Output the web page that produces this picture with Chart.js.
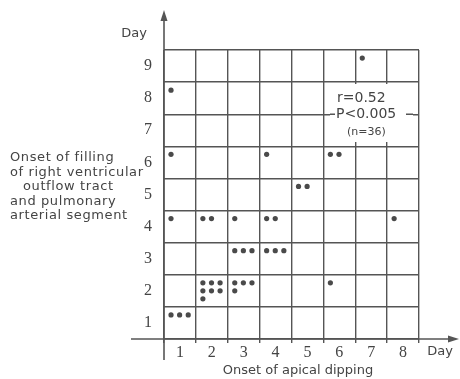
<!DOCTYPE html>
<html>
<head>
<meta charset="utf-8">
<script src="https://cdn.jsdelivr.net/npm/chart.js@4"></script>
<style>
  html, body { margin: 0; padding: 0; background: #fff; }
  #wrap { width: 460px; height: 379px; }
</style>
</head>
<body>
<div id="wrap"><canvas id="grafico"></canvas></div>
<script>
// giorni (asse x = onset of apical dipping, asse y = onset of filling)
const giorniX = [1, 2, 3, 4, 5, 6, 7, 8];
const giorniY = [1, 2, 3, 4, 5, 6, 7, 8, 9];

// una cella per coppia (x, y) con il numero di pazienti
const celleX =      [7, 1, 1, 4, 6, 5, 1, 2, 3, 4, 8, 3, 4, 2, 3, 6, 1];
const celleY =      [9, 8, 6, 6, 6, 5, 4, 4, 4, 4, 4, 3, 3, 2, 2, 2, 1];
const celleConteggio = [1, 1, 1, 1, 2, 2, 1, 2, 1, 2, 1, 3, 3, 7, 4, 1, 3];

const testoStatistiche = ["r=0.52", "P<0.005", "(n=36)"];
const etichettaSinistra = ["Onset of filling", "of right ventricular", "outflow tract", "and pulmonary", "arterial segment"];
const rientroSinistra = [0, 0, 13, 0, 0];

const COLORE_LINEA = "#555";
const COLORE_TESTO = "#444";
const FONT_TESTO = "13px 'DejaVu Sans'";

// un punto per paziente, disposti a gruppi di 3 per riga dentro la cella
function costruisciPunti() {
  const punti = [];
  celleX.forEach(function (x, i) {
    for (let k = 0; k < celleConteggio[i]; k++) {
      punti.push({
        x: x - 0.28 + (k % 3) * 0.27,
        y: celleY[i] + 0.25 - Math.floor(k / 3) * 0.25
      });
    }
  });
  return punti;
}

function tickMezzi(lista) {
  return function (scale) {
    const t = [];
    t.push({ value: lista[0] - 0.5 });
    lista.forEach(function (v) { t.push({ value: v }); t.push({ value: v + 0.5 }); });
    scale.ticks = t;
  };
}

function coloreGriglia(ctx) {
  return ctx.tick && Math.abs(ctx.tick.value % 1) === 0.5 ? COLORE_LINEA : "rgba(0,0,0,0)";
}

const assiEtesti = {
  id: "assiEtesti",
  afterDraw: function (chart) {
    const c = chart.ctx;
    const xs = chart.scales.x, ys = chart.scales.y;
    const x0 = xs.getPixelForValue(0.5);
    const y0 = ys.getPixelForValue(0.5);
    c.save();
    c.strokeStyle = COLORE_LINEA;
    c.fillStyle = COLORE_LINEA;
    c.lineWidth = 1.6;
    // asse y con freccia
    c.beginPath(); c.moveTo(x0, 360); c.lineTo(x0, 14); c.stroke();
    c.beginPath(); c.moveTo(x0, 10); c.lineTo(x0 - 3.5, 21); c.lineTo(x0 + 3.5, 21); c.closePath(); c.fill();
    // asse x con freccia
    c.beginPath(); c.moveTo(131, y0); c.lineTo(454, y0); c.stroke();
    c.beginPath(); c.moveTo(459, y0); c.lineTo(448, y0 - 3.5); c.lineTo(448, y0 + 3.5); c.closePath(); c.fill();

    c.fillStyle = COLORE_TESTO;
    c.font = FONT_TESTO;
    c.textBaseline = "middle";
    c.textAlign = "center";
    c.fillText("Day", 134, 34);
    c.fillText("Day", 440, 352);
    c.fillText("Onset of apical dipping", 298, 371);
    c.textAlign = "left";
    c.letterSpacing = "0.6px";
    etichettaSinistra.forEach(function (riga, i) {
      c.fillText(riga, 10 + rientroSinistra[i], 158 + i * 14.5);
    });
    c.letterSpacing = "0px";

    // riquadro statistiche
    const bx0 = 330, bx1 = 413, by0 = 84, by1 = 142;
    const yMed = ys.getPixelForValue(7.5);
    c.fillStyle = "#fff";
    c.fillRect(bx0, by0, bx1 - bx0, by1 - by0);
    c.strokeStyle = COLORE_LINEA;
    c.lineWidth = 1.4;
    c.beginPath();
    c.moveTo(bx0, yMed); c.lineTo(335, yMed);
    c.moveTo(406, yMed); c.lineTo(bx1, yMed);
    c.stroke();
    c.fillStyle = COLORE_TESTO;
    c.textAlign = "left";
    c.font = "14px 'DejaVu Sans'";
    c.fillText(testoStatistiche[0], 337, 98);
    c.fillText(testoStatistiche[1], 336, 114.5);
    c.font = "11px 'DejaVu Sans'";
    c.fillText(testoStatistiche[2], 347, 132);
    c.restore();
  }
};

new Chart(document.getElementById("grafico"), {
  type: "scatter",
  data: {
    datasets: [{
      data: costruisciPunti(),
      backgroundColor: "#4a4a4a",
      borderWidth: 0,
      pointRadius: 2.6,
      pointHoverRadius: 2.6
    }]
  },
  options: {
    responsive: true,
    maintainAspectRatio: false,
    animation: false,
    layout: { padding: { top: 50, right: 41, bottom: 0, left: 0 } },
    plugins: { legend: { display: false }, tooltip: { enabled: false } },
    scales: {
      x: {
        type: "linear",
        min: 0.5,
        max: 8.5,
        afterBuildTicks: tickMezzi(giorniX),
        afterFit: function (s) { s.height = 40; },
        border: { display: false },
        grid: { color: coloreGriglia, lineWidth: 1.4, tickLength: 4 },
        ticks: {
          autoSkip: false,
          maxRotation: 0,
          padding: 0,
          color: COLORE_TESTO,
          font: { family: "'Liberation Sans Narrow'", size: 16 },
          callback: function (v) { return v % 1 === 0 ? String(v) : ""; }
        }
      },
      y: {
        type: "linear",
        min: 0.5,
        max: 9.5,
        afterBuildTicks: tickMezzi(giorniY),
        afterFit: function (s) { s.width = 164; },
        border: { display: false },
        grid: { color: coloreGriglia, lineWidth: 1.4, drawTicks: false },
        ticks: {
          autoSkip: false,
          padding: 12,
          color: COLORE_TESTO,
          font: { family: "'Liberation Sans Narrow'", size: 16 },
          callback: function (v) { return v % 1 === 0 ? String(v) : ""; }
        }
      }
    }
  },
  plugins: [assiEtesti]
});
</script>
</body>
</html>
